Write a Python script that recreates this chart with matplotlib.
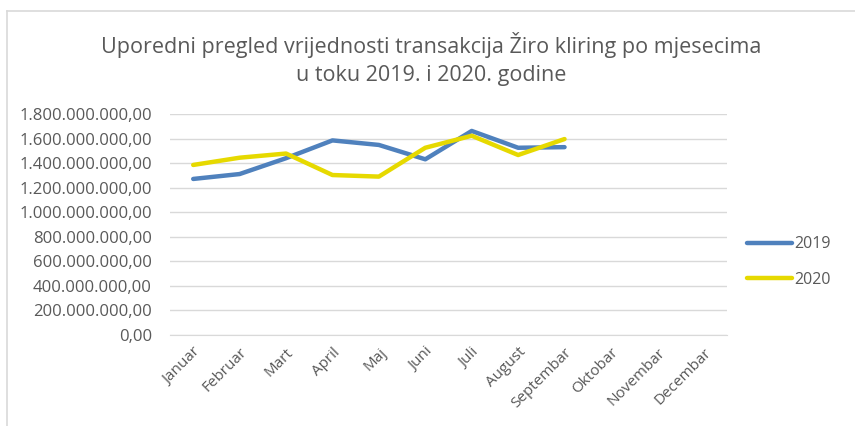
import matplotlib.pyplot as plt
from matplotlib.lines import Line2D
from matplotlib.ticker import FuncFormatter

plt.rcParams['font.family'] = ['Open Sans', 'DejaVu Sans']

mjeseci = ['Januar', 'Februar', 'Mart', 'April', 'Maj', 'Juni', 'Juli',
           'August', 'Septembar', 'Oktobar', 'Novembar', 'Decembar']
# vrijednosti po mjesecima (procjena sa grafika)
god_2019 = [1.271e9, 1.311e9, 1.440e9, 1.585e9, 1.548e9, 1.431e9, 1.662e9,
            1.525e9, 1.530e9]
god_2020 = [1.385e9, 1.444e9, 1.478e9, 1.303e9, 1.290e9, 1.525e9, 1.623e9,
            1.466e9, 1.596e9]

naslov_1 = 'Uporedni pregled vrijednosti transakcija Žiro kliring po mjesecima'
naslov_2 = 'u toku 2019. i 2020. godine'

siva = '#595959'
plava = '#4F81BD'
zuta = '#E6D900'

def format_broj(v, pos):
    s = '{:,.2f}'.format(v)
    return s.replace(',', 'X').replace('.', ',').replace('X', '.')

fig = plt.figure(figsize=(8.55, 4.26), dpi=100)
ax = fig.add_axes([170/855, 91/426, 557/855, 221/426])

x = list(range(len(mjeseci)))
ax.plot(x[:len(god_2019)], god_2019, color=plava, lw=3.2, label='2019', solid_capstyle='round')
ax.plot(x[:len(god_2020)], god_2020, color=zuta, lw=3.2, label='2020', solid_capstyle='round')

ax.set_xlim(-0.5, len(mjeseci) - 0.5)
ax.set_ylim(0, 1.8e9)
ax.set_yticks([i * 2e8 for i in range(10)])
ax.yaxis.set_major_formatter(FuncFormatter(format_broj))
ax.set_xticks(x)
ax.set_xticklabels(mjeseci, rotation=45, ha='right', rotation_mode='anchor')
ax.tick_params(axis='both', length=0, labelsize=11, colors=siva)
ax.tick_params(axis='y', pad=13, labelsize=12)
ax.tick_params(axis='x', pad=7)
ax.grid(axis='y', color='#D9D9D9', lw=1)
ax.set_axisbelow(True)
for s in ['top', 'right', 'left']:
    ax.spines[s].set_visible(False)
ax.spines['bottom'].set_color('#D9D9D9')

fig.text(431/855, 1 - 45/426, naslov_1, ha='center', va='center', fontsize=15.5, color=siva)
fig.text(431/855, 1 - 75/426, naslov_2, ha='center', va='center', fontsize=15.5, color=siva)

ax.legend(loc='center left', bbox_to_anchor=(733/855, (426-262)/426), bbox_transform=fig.transFigure,
          frameon=False, fontsize=11.5, labelcolor=siva, handlelength=2.8, labelspacing=1.2,
          handletextpad=0.15)

# okvir grafikona
fig.add_artist(Line2D([7/855, 7/855], [0, 1 - 11/426], color='#D9D9D9', lw=1.2, transform=fig.transFigure))
fig.add_artist(Line2D([7/855, 1], [1 - 11/426, 1 - 11/426], color='#D9D9D9', lw=1.2, transform=fig.transFigure))

fig.savefig('out.png', dpi=100)
